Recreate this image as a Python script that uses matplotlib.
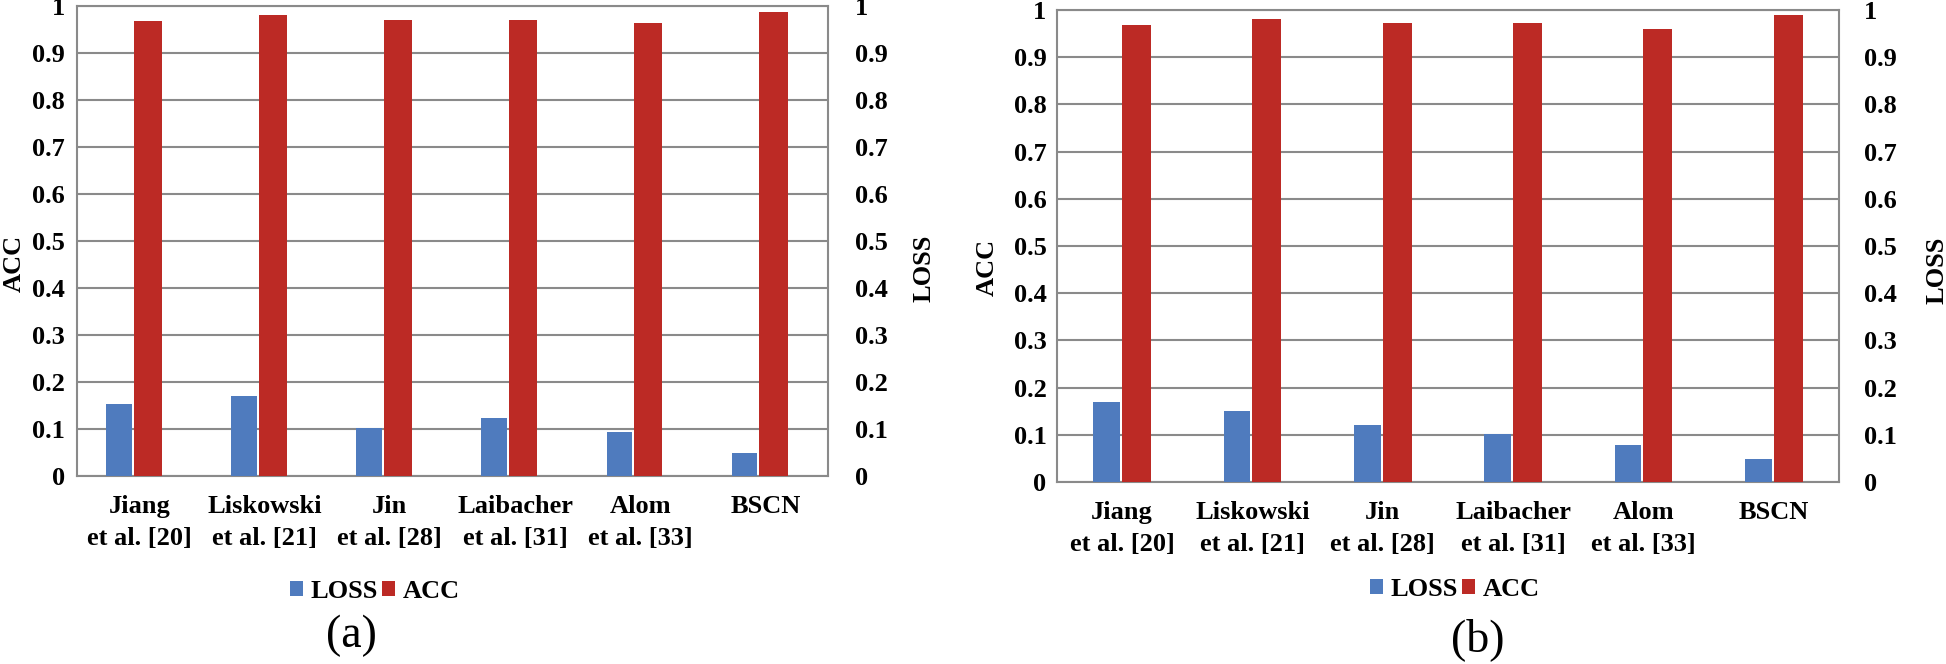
import matplotlib
matplotlib.use('Agg')
import matplotlib.pyplot as plt
import numpy as np

# Methods compared in both panels
methods = ['Jiang\net al. [20]', 'Liskowski\net al. [21]', 'Jin\net al. [28]',
           'Laibacher\net al. [31]', 'Alom\net al. [33]', 'BSCN']

# Panel (a) values
loss_a = [0.153, 0.170, 0.102, 0.123, 0.093, 0.049]
acc_a = [0.968, 0.980, 0.971, 0.971, 0.963, 0.988]

# Panel (b) values
loss_b = [0.169, 0.151, 0.121, 0.101, 0.078, 0.048]
acc_b = [0.968, 0.980, 0.972, 0.972, 0.959, 0.989]

yticks = [0, 0.1, 0.2, 0.3, 0.4, 0.5, 0.6, 0.7, 0.8, 0.9, 1]
ytick_labels = ['0', '0.1', '0.2', '0.3', '0.4', '0.5', '0.6', '0.7', '0.8', '0.9', '1']

blue = '#4F7BBE'
red = '#BC2A25'
grid_gray = '#8A8A8A'

plt.rcParams['font.family'] = ['Liberation Serif', 'DejaVu Serif']
plt.rcParams['font.weight'] = 'bold'
fs = 19
W, H = 1946, 664

fig = plt.figure(figsize=(W / 100, H / 100), dpi=100)


def fx(px):
    return px / W


def fy(py):
    return 1 - py / H


def draw_panel(rect, loss, acc, shift, lpad, rpad, leg_pos, tag, tag_pos, acc_pos, loss_pos):
    ax = fig.add_axes(rect)
    x = np.arange(len(methods))
    ax.bar(x + shift - 0.11, loss, 0.205, color=blue, label='LOSS', zorder=3)
    ax.bar(x + shift + 0.12, acc, 0.225, color=red, label='ACC', zorder=3)
    ax.set_xlim(-0.5, len(methods) - 0.5)
    ax.set_ylim(0, 1)
    ax.set_yticks(yticks)
    ax.set_yticklabels(ytick_labels, fontsize=fs, fontweight='bold')
    ax.set_xticks(x)
    ax.set_xticklabels(methods, fontsize=fs, fontweight='bold', linespacing=1.5)
    ax.tick_params(axis='both', length=0)
    ax.tick_params(axis='y', pad=lpad)
    ax.tick_params(axis='x', pad=14)
    ax.grid(axis='y', color=grid_gray, linewidth=1.5, zorder=0)
    for s in ax.spines.values():
        s.set_color(grid_gray)
        s.set_linewidth(1.5)

    ax2 = ax.twinx()
    ax2.set_ylim(0, 1)
    ax2.set_yticks(yticks)
    ax2.set_yticklabels(ytick_labels, fontsize=fs, fontweight='bold')
    ax2.tick_params(axis='y', length=0, pad=rpad)
    for s in ax2.spines.values():
        s.set_visible(False)

    fig.text(fx(acc_pos[0]), fy(acc_pos[1]), 'ACC', fontsize=fs, fontweight='bold',
             rotation=90, ha='center', va='center')
    fig.text(fx(loss_pos[0]), fy(loss_pos[1]), 'LOSS', fontsize=fs, fontweight='bold',
             rotation=90, ha='center', va='center')

    h, l = ax.get_legend_handles_labels()
    fig.legend(h, l, loc='center', bbox_to_anchor=(fx(leg_pos[0]), fy(leg_pos[1])),
               ncol=2, frameon=False, prop={'size': fs, 'weight': 'bold'},
               handlelength=0.5, handleheight=0.5, handletextpad=0.3,
               columnspacing=0.15, borderpad=0)
    fig.text(fx(tag_pos[0]), fy(tag_pos[1]), tag, fontsize=33, fontweight='normal',
             ha='center', va='center')


draw_panel([fx(77), fy(476), fx(828) - fx(77), fy(6) - fy(476)], loss_a, acc_a,
           -0.056, 8.5, 19.5, (375, 591), '(a)', (351, 636), (14, 263), (924, 268))
draw_panel([fx(1057), fy(482), fx(1839) - fx(1057), fy(10) - fy(482)], loss_b, acc_b,
           -0.01, 7.5, 18, (1455, 589), '(b)', (1478, 640), (987, 267), (1937, 270))

fig.savefig('out.png', dpi=100)
